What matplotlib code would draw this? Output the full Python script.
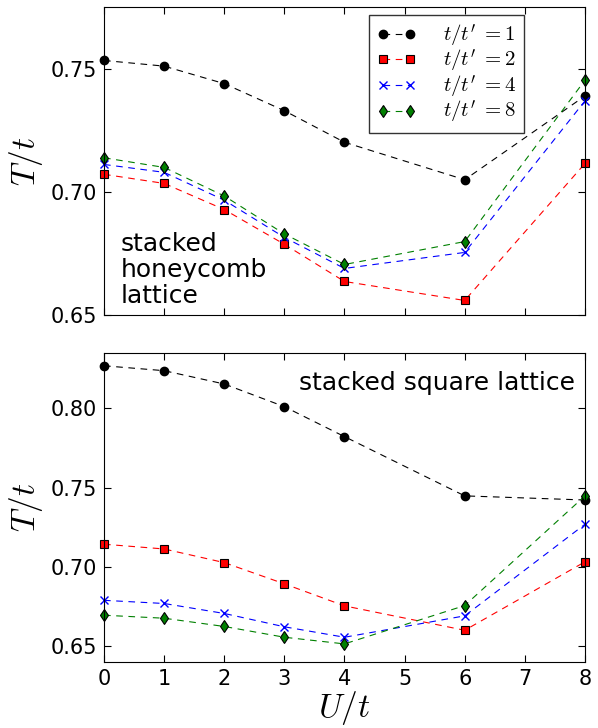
import matplotlib
matplotlib.use("Agg")
import matplotlib.pyplot as plt

plt.rcParams['mathtext.fontset'] = 'cm'
plt.rcParams['font.family'] = 'DejaVu Sans'

U = [0, 1, 2, 3, 4, 6, 8]
labels = [r"$t/t' \;{=}1$", r"$t/t' \;{=}2$", r"$t/t' \;{=}4$", r"$t/t' \;{=}8$"]

# stacked honeycomb lattice
hc_1 = [0.7533, 0.7510, 0.7439, 0.7329, 0.7201, 0.7049, 0.7389]
hc_2 = [0.7071, 0.7034, 0.6928, 0.6787, 0.6636, 0.6559, 0.7115]
hc_4 = [0.7111, 0.7079, 0.6966, 0.6815, 0.6689, 0.6754, 0.7369]
hc_8 = [0.7138, 0.7099, 0.6983, 0.6829, 0.6705, 0.6798, 0.7453]

# stacked square lattice
sq_1 = [0.8269, 0.8238, 0.8154, 0.8011, 0.7822, 0.7448, 0.7422]
sq_2 = [0.7143, 0.7113, 0.7027, 0.6893, 0.6754, 0.6600, 0.7032]
sq_4 = [0.6789, 0.6769, 0.6706, 0.6622, 0.6556, 0.6691, 0.7269]
sq_8 = [0.6695, 0.6676, 0.6624, 0.6556, 0.6514, 0.6756, 0.7448]

styles = [
    dict(color='k', marker='o', mfc='k', mec='k', ms=6),
    dict(color='r', marker='s', mfc='r', mec='k', ms=6, mew=0.8),
    dict(color='b', marker='x', mec='b', ms=6, mew=1),
    dict(color='g', marker='d', mfc='g', mec='k', ms=6, mew=0.8),
]

fig = plt.figure(figsize=(5.98, 7.28), dpi=100)
ax1 = fig.add_axes([0.1739, 0.5673, 0.8043, 0.4231])
ax2 = fig.add_axes([0.1739, 0.0907, 0.8043, 0.4245])

for data, st, lab in zip([hc_1, hc_2, hc_4, hc_8], styles, labels):
    ax1.plot(U, data, ls='--', dashes=(6, 5), lw=0.8, label=lab, clip_on=False, **st)
for data, st in zip([sq_1, sq_2, sq_4, sq_8], styles):
    ax2.plot(U, data, ls='--', dashes=(6, 5), lw=0.8, clip_on=False, **st)

ax1.set_ylim(0.65, 0.775)
ax1.set_yticks([0.65, 0.70, 0.75])
ax2.set_ylim(0.64, 0.835)
ax2.set_yticks([0.65, 0.70, 0.75, 0.80])

for ax in (ax1, ax2):
    ax.set_xlim(0, 8)
    ax.set_xticks(range(9))
    ax.tick_params(direction='in', top=True, right=True, labelsize=15, length=5, pad=5)
    ax.set_ylabel(r'$T/t$', fontsize=24)
    ax.yaxis.set_label_coords(-0.123, 0.5)
    ax.yaxis.set_major_formatter(matplotlib.ticker.FormatStrFormatter('%.2f'))
ax1.set_xticklabels([])
ax2.set_xlabel(r'$U/t$', fontsize=24, labelpad=0)

ax1.text(0.035, 0.022, 'stacked\nhoneycomb\nlattice', transform=ax1.transAxes,
         fontsize=18, ha='left', va='bottom', linespacing=1.1)
ax2.text(0.98, 0.94, 'stacked square lattice', transform=ax2.transAxes,
         fontsize=18, ha='right', va='top')

leg = ax1.legend(loc='upper right', bbox_to_anchor=(0.873, 0.974), borderaxespad=0,
                 numpoints=2, fontsize=15, fancybox=False, handlelength=1.9,
                 labelspacing=-0.05, handletextpad=1.3, borderpad=0.35)
leg.get_frame().set_edgecolor('k')
leg.get_frame().set_linewidth(1)

fig.savefig('out.png', dpi=100)
